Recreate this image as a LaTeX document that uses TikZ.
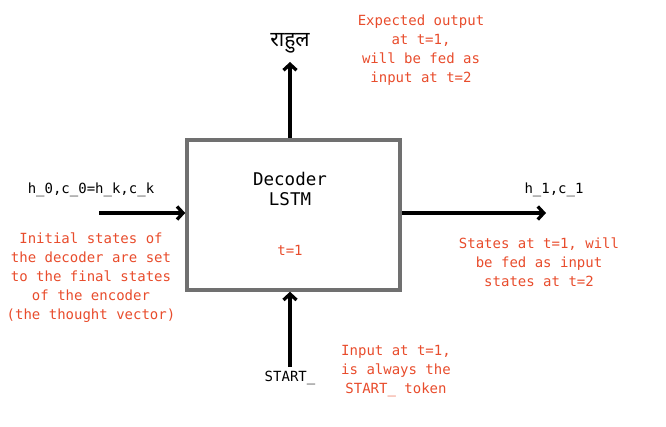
\documentclass[tikz,border=0pt]{standalone}
\usepackage{fontspec}
\setmonofont{DejaVu Sans Mono}
\newfontfamily\hindi[Script=Devanagari]{Noto Sans}
\usepackage{tikz}
\usetikzlibrary{arrows.meta}
\definecolor{notered}{RGB}{232,76,44}
\definecolor{boxgray}{RGB}{112,112,112}
\tikzset{
  arr/.style={line width=3.3pt, -{Straight Barb[length=6pt,width=13pt,line width=3.3pt]}},
  lbl/.style={font=\ttfamily\fontsize{14}{19}\selectfont, align=center, inner sep=0pt},
  note/.style={lbl, text=notered},
}

\begin{document}
\begin{tikzpicture}[x=1pt,y=-1pt]
\useasboundingbox (0,0) rectangle (666,427);
\node[draw=boxgray, line width=3.5pt, minimum width=213pt, minimum height=150pt] (lstm) at (293.5,215) {};
\node[lbl, font=\ttfamily\fontsize{17.5}{20}\selectfont] (name) at (290,189) {Decoder\\LSTM};
\node[note] (t1) at (290,250) {t=1};
% output on top
\node[inner sep=0pt, font=\hindi\fontsize{21}{24}\selectfont] (out) at (290,43) {राहुल};
\draw[arr] (out |- lstm.north) -- (290,62);
\node[note] (outnote) at (421,50) {Expected output\\at t=1,\\will be fed as\\input at t=2};
% states in
\coordinate (inL) at (99,213);
\draw[arr] (inL) -- (inL -| lstm.west);
\node[lbl] (h0) at (91,190) {h\_0,c\_0=h\_k,c\_k};
\node[note] (h0note) at (91,278) {Initial states of\\the decoder are set\\to the final states\\of the encoder\\(the thought vector)};
% states out
\coordinate (outR) at (546,213);
\draw[arr] (outR -| lstm.east) -- (outR);
\node[lbl] (h1) at (554,190) {h\_1,c\_1};
\node[note] (h1note) at (539,262) {States at t=1, will\\be fed as input\\states at t=2};
% input token
\node[lbl] (start) at (290,378) {START\_};
\draw[arr] (290,367) -- (start |- lstm.south);
\node[note] (startnote) at (396,371) {Input at t=1,\\is always the\\START\_ token};
\end{tikzpicture}
\end{document}
